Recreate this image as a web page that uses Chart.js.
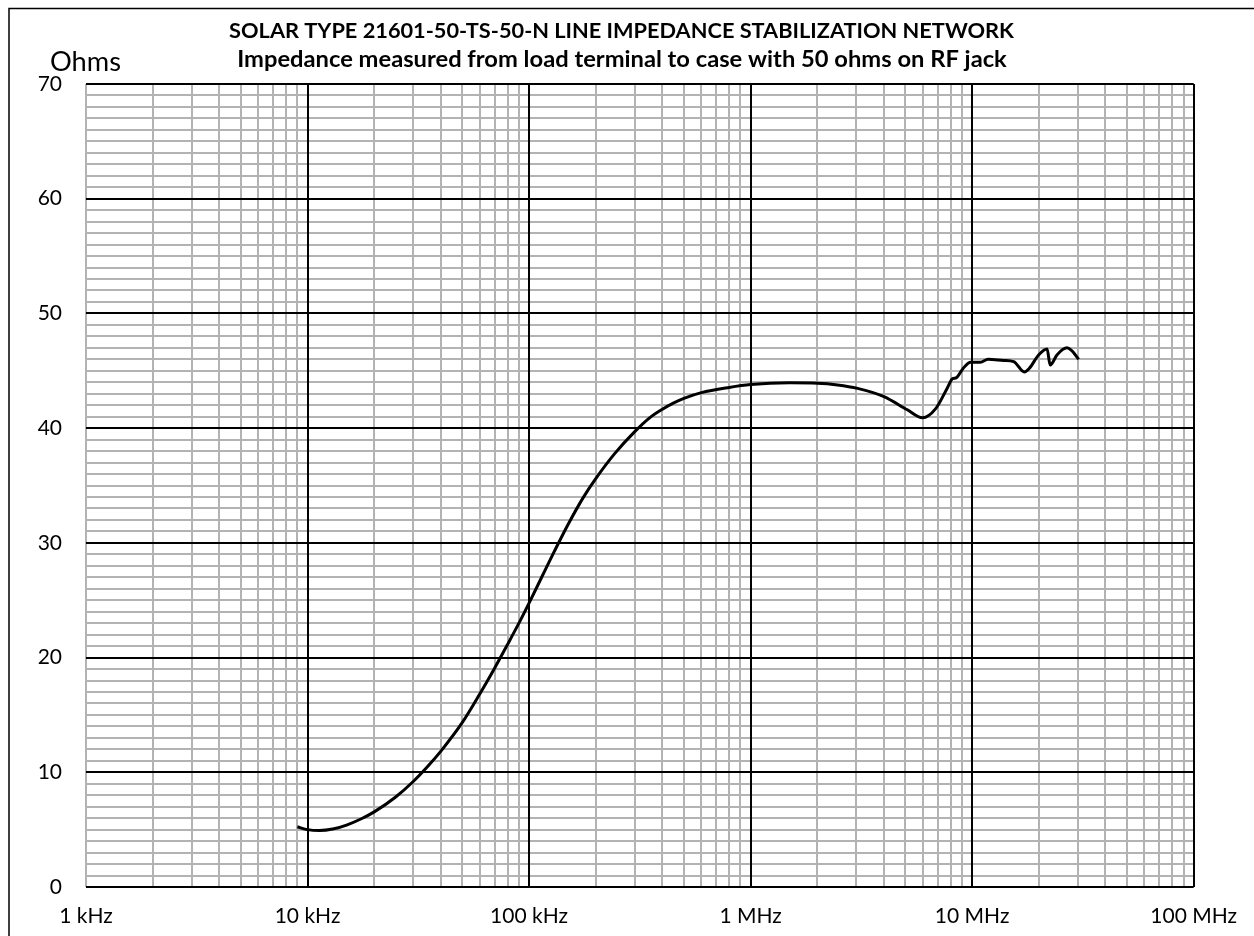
<!DOCTYPE html>
<html>
<head>
<meta charset="utf-8">
<script src="https://cdn.jsdelivr.net/npm/chart.js@4.4.1/dist/chart.umd.min.js"></script>
<style>
  html, body { margin: 0; padding: 0; background: #fff; }
  canvas { display: block; }
</style>
</head>
<body>
<canvas id="c" width="1254" height="936"></canvas>
<script>
// ---- data ----
const freqHz = [9000, 10000, 11300, 13000, 15000, 17500, 20000, 25000, 30000, 35000,
  40000, 50000, 60000, 70000, 80000, 90000, 100000, 114000, 130000, 150000,
  175000, 200000, 244000, 300000, 350000, 400000, 450000, 500000, 600000, 800000, 1000000,
  1500000, 2000000, 2470000, 3040000, 4000000, 5100000, 5970000, 6850000, 7730000, 8150000,
  8500000, 9100000, 9850000, 10900000, 11800000, 13900000, 15400000, 17200000, 18100000, 20000000,
  21800000, 22500000, 24200000, 26800000, 28000000, 30300000];
const ohms = [5.25, 5.0, 4.92, 5.05, 5.4, 5.95, 6.55, 7.85, 9.2, 10.55,
  11.85, 14.35, 16.85, 19.1, 21.15, 23.0, 24.75, 27.0, 29.25, 31.6,
  33.9, 35.6, 37.8, 39.7, 40.9, 41.65, 42.2, 42.6, 43.1, 43.55, 43.8,
  43.95, 43.92, 43.77, 43.47, 42.75, 41.6, 40.9, 41.7, 43.5, 44.3,
  44.4, 45.2, 45.75, 45.75, 46.0, 45.9, 45.8, 44.9, 45.2, 46.4,
  46.9, 45.5, 46.4, 47.0, 46.8, 46.0];
const xTickValues = [1e3, 1e4, 1e5, 1e6, 1e7, 1e8];
const xTickLabels = ['1 kHz', '10 kHz', '100 kHz', '1 MHz', '10 MHz', '100 MHz'];
const yMajorTicks = [0, 10, 20, 30, 40, 50, 60, 70];
const yTickLabels = ['0', '10', '20', '30', '40', '50', '60', '70'];
const titleLines = ['SOLAR TYPE 21601-50-TS-50-N LINE IMPEDANCE STABILIZATION NETWORK',
  'Impedance measured from load terminal to case with 50 ohms on RF jack'];
const yAxisTitle = 'Ohms';

// ---- helpers ----
const FONT = 'Lato, "Open Sans", "DejaVu Sans", sans-serif';
const GRAY = '#b3b3b3';

function fitFont(ctx, text, weight, target) {
  ctx.font = weight + ' 30px ' + FONT;
  const w = ctx.measureText(text).width;
  return 30 * target / w;
}

const xTicksAll = [];
for (let d = 0; d < xTickValues.length - 1; d++) {
  for (let m = 1; m <= 9; m++) xTicksAll.push(xTickValues[d] * m);
}
xTicksAll.push(xTickValues[xTickValues.length - 1]);
const yTicksAll = [];
for (let v = yMajorTicks[0]; v <= yMajorTicks[yMajorTicks.length - 1]; v++) yTicksAll.push(v);

const decor = {
  id: 'decor',
  afterDraw(chart) {
    const ctx = chart.ctx;
    ctx.save();
    ctx.strokeStyle = '#000';
    ctx.lineWidth = 1.5;
    ctx.beginPath();
    ctx.moveTo(9, 936); ctx.lineTo(9, 8.5); ctx.lineTo(1254, 8.5);
    ctx.stroke();
    ctx.fillStyle = '#000';
    ctx.textAlign = 'center';
    ctx.textBaseline = 'alphabetic';
    const s1 = fitFont(ctx, titleLines[0], 'bold', 785);
    ctx.font = 'bold ' + s1 + 'px ' + FONT;
    ctx.fillText(titleLines[0], 621.5, 38);
    const s2 = fitFont(ctx, titleLines[1], 'bold', 770);
    ctx.font = 'bold ' + s2 + 'px ' + FONT;
    ctx.fillText(titleLines[1], 622, 67);
    const s3 = fitFont(ctx, yAxisTitle, 'normal', 71);
    ctx.font = 'normal ' + s3 + 'px ' + FONT;
    ctx.textAlign = 'left';
    ctx.fillText(yAxisTitle, 50, 71);
    ctx.restore();
  }
};

const xMin = xTickValues[0], xMax = xTickValues[xTickValues.length - 1];
const yMin = yMajorTicks[0], yMax = yMajorTicks[yMajorTicks.length - 1];

new Chart(document.getElementById('c'), {
  type: 'scatter',
  data: {
    datasets: [{
      data: freqHz.map((f, i) => ({ x: f, y: ohms[i] })),
      showLine: true,
      borderColor: '#000',
      borderWidth: 3,
      pointRadius: 0,
      cubicInterpolationMode: 'monotone',
      fill: false
    }]
  },
  options: {
    responsive: false,
    animation: false,
    devicePixelRatio: 1,
    layout: { padding: { top: 84, right: 57, left: 0, bottom: 0 } },
    plugins: { legend: { display: false }, tooltip: { enabled: false }, title: { display: false } },
    scales: {
      x: {
        type: 'logarithmic',
        min: xMin, max: xMax,
        afterBuildTicks: s => { s.ticks = xTicksAll.map(v => ({ value: v })); },
        afterFit: s => { s.height = 49; },
        border: { display: false },
        grid: { drawTicks: false, lineWidth: 2, color: GRAY, z: -2 },
        ticks: {
          autoSkip: false,
          maxRotation: 0,
          padding: 17,
          color: '#000',
          font: { family: FONT, size: 21 },
          callback: (v) => {
            const i = xTickValues.indexOf(v);
            return i >= 0 ? xTickLabels[i] : '';
          }
        }
      },
      xMajor: {
        type: 'logarithmic',
        axis: 'x',
        position: 'bottom',
        min: xMin, max: xMax,
        afterBuildTicks: s => { s.ticks = xTickValues.slice(1).map(v => ({ value: v })); },
        afterFit: s => { s.height = 0; },
        border: { display: false },
        grid: { drawTicks: false, lineWidth: 2, color: '#000', z: -1 },
        ticks: { display: false }
      },
      y: {
        type: 'linear',
        min: yMin, max: yMax,
        afterBuildTicks: s => { s.ticks = yTicksAll.map(v => ({ value: v })); },
        afterFit: s => { s.width = 86; },
        border: { display: false },
        grid: { drawTicks: false, lineWidth: 2, color: GRAY, z: -2 },
        ticks: {
          autoSkip: false,
          padding: 24,
          color: '#000',
          font: { family: FONT, size: 21 },
          callback: (v) => {
            const i = yMajorTicks.indexOf(v);
            return i >= 0 ? yTickLabels[i] : '';
          }
        }
      },
      yMajor: {
        type: 'linear',
        axis: 'y',
        position: 'left',
        min: yMin, max: yMax,
        afterBuildTicks: s => { s.ticks = yMajorTicks.map(v => ({ value: v })); },
        afterFit: s => { s.width = 0; },
        border: { display: false },
        grid: { drawTicks: false, lineWidth: 2, color: '#000', z: -1 },
        ticks: { display: false }
      }
    }
  },
  plugins: [decor]
});
</script>
</body>
</html>
